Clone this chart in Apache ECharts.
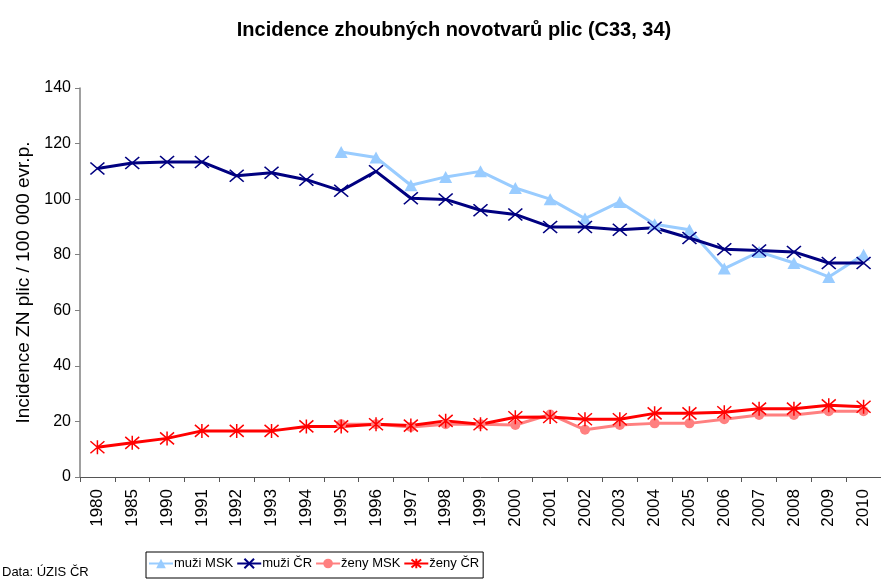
<!DOCTYPE html>
<html>
<head>
<meta charset="utf-8">
<script src="https://cdn.jsdelivr.net/npm/echarts@6/dist/echarts.min.js"></script>
<style>
    * { margin: 0; padding: 0; }
    #main { width: 881px; height: 581px; background: #fff; }
</style>
</head>
<body>
<div id="main"></div>
<script>
// roky (osa x)
var years = ['1980', '1985', '1990', '1991', '1992', '1993', '1994', '1995', '1996', '1997', '1998',
    '1999', '2000', '2001', '2002', '2003', '2004', '2005', '2006', '2007', '2008', '2009', '2010'];

// hodnoty
var muziMSK = [null, null, null, null, null, null, null, 117, 115, 105, 108, 110, 104, 100, 93, 99, 91, 89, 75, 81, 77, 72, 80];
var muziCR = [111, 113, 113.4, 113.4, 108.4, 109.5, 107, 103, 110, 100.3, 99.9, 96, 94.5, 90, 90, 89, 89.7, 86, 82, 81.5, 81, 77, 77];
var zenyMSK = [null, null, null, null, null, null, null, 19, 19, 18, 19, 19, 18.7, 22.5, 17, 18.7, 19.3, 19.3, 20.8, 22.3, 22.3, 23.7, 23.7];
var zenyCR = [10.7, 12.3, 13.9, 16.6, 16.6, 16.6, 18.2, 18.2, 19, 18.5, 20.2, 19, 21.5, 21.6, 20.8, 20.8, 22.9, 22.9, 23.3, 24.6, 24.6, 25.8, 25.3];

var yTicks = [0, 20, 40, 60, 80, 100, 120, 140];

var myChart = echarts.init(document.getElementById('main'));

var xPath = 'path://M0,0L14,12M14,0L0,12';
var starPath = 'path://M0,0L14,12M14,0L0,12M7,-1L7,13';

var option = {
    animation: false,
    backgroundColor: '#fff',
    title: {
        text: 'Incidence zhoubných novotvarů plic (C33, 34)',
        left: 449,
        top: 15,
        textAlign: 'center',
        textStyle: { fontFamily: 'Liberation Sans', fontSize: 20, fontWeight: 'bold', color: '#000' }
    },
    graphic: [{
        type: 'text',
        left: 2,
        top: 566,
        style: { text: 'Data: ÚZIS ČR', font: '13px "Liberation Sans"', fill: '#000' }
    }],
    legend: {
        left: 146,
        top: 552,
        itemWidth: 24,
        itemHeight: 12,
        itemGap: 3,
        padding: [5, 4, 8, 2],
        borderColor: '#000',
        borderWidth: 1,
        backgroundColor: '#fff',
        textStyle: { fontFamily: 'Liberation Sans', fontSize: 13, color: '#000', padding: [0, 0, 0, -4] },
        data: ['muži MSK', 'muži ČR', 'ženy MSK', 'ženy ČR']
    },
    grid: { left: 80, right: -10, top: 88, bottom: 104, containLabel: false },
    xAxis: {
        type: 'category',
        data: years,
        boundaryGap: true,
        axisLine: { lineStyle: { color: '#555', width: 1 } },
        axisTick: { show: true, length: 5, lineStyle: { color: '#555' } },
        axisLabel: { rotate: 90, margin: 12, fontFamily: 'Liberation Sans', fontSize: 17, color: '#000' }
    },
    yAxis: {
        type: 'value',
        min: yTicks[0],
        max: yTicks[yTicks.length - 1],
        interval: 20,
        name: 'Incidence ZN plic / 100 000 evr.p.',
        nameLocation: 'middle',
        nameGap: 47,
        nameTextStyle: { fontFamily: 'Liberation Sans', fontSize: 19, color: '#000' },
        axisLine: { show: true, lineStyle: { color: '#808080', width: 1.5 } },
        axisTick: { show: true, length: 5, lineStyle: { color: '#808080' } },
        splitLine: { show: false },
        axisLabel: { margin: 9, fontFamily: 'Liberation Sans', fontSize: 16, color: '#000' }
    },
    series: [{
        name: 'muži MSK',
        type: 'line',
        data: muziMSK,
        symbol: 'triangle',
        symbolSize: [13, 12],
        lineStyle: { color: '#99ccff', width: 3 },
        itemStyle: { color: '#99ccff', borderColor: '#99ccff', borderWidth: 0 }
    }, {
        name: 'muži ČR',
        type: 'line',
        data: muziCR,
        symbol: xPath,
        symbolSize: [14, 12],
        lineStyle: { color: '#000080', width: 3 },
        itemStyle: { color: 'rgba(0,0,0,0)', borderColor: '#000080', borderWidth: 1.5 }
    }, {
        name: 'ženy MSK',
        type: 'line',
        data: zenyMSK,
        symbol: 'circle',
        symbolSize: 10,
        lineStyle: { color: '#ff8080', width: 3 },
        itemStyle: { color: '#ff8080', borderColor: '#ff8080', borderWidth: 0 }
    }, {
        name: 'ženy ČR',
        type: 'line',
        data: zenyCR,
        symbol: starPath,
        symbolSize: [14, 14],
        lineStyle: { color: '#ff0000', width: 3 },
        itemStyle: { color: 'rgba(0,0,0,0)', borderColor: '#ff0000', borderWidth: 1.5 }
    }]
};

myChart.setOption(option);
</script>
</body>
</html>
